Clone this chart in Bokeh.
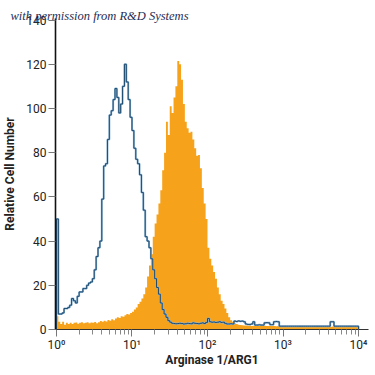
import numpy as np
from bokeh.plotting import figure
from bokeh.models import Range1d, FixedTicker, Title
from bokeh.embed import file_html
from bokeh.resources import INLINE

# ---- data ----
BIN_W = 0.025          # histogram bin width in decades
N_BINS = 160           # 10^0 .. 10^4

isotype = [
    50, 7, 7, 7.5, 9.5, 9.5, 10, 11, 14, 13,
    12, 15, 17, 17, 18.5, 18.5, 20, 21, 21.5, 23,
    27, 33, 37, 40, 59, 74, 75, 86, 97, 99,
    104, 109, 105, 98, 102, 110, 120, 112, 104, 96,
    90, 82, 77, 75, 70, 62, 54, 42, 40, 37,
    32, 27, 23, 19, 16, 12, 9, 7, 5.5, 4,
    3.3, 2.8, 2.7, 2.6, 2.7, 2.8, 2.7, 2.5, 2.6, 2.8,
    2.7, 2.6, 3.0, 2.8, 2.7, 2.6, 2.8, 3.0, 2.7, 3.2,
    5.0, 3.5, 3.3, 3.4, 3.2, 3.3, 3.5, 3.2, 3.3, 2.8,
    2.5, 2.5, 2.6, 2.5, 3.8, 3.6, 3.9, 3.7, 3.8, 3.5,
    2.5, 2.3, 2.3, 2.5, 3.5, 2.0, 2.0, 2.1, 2.0, 2.0,
    3.0, 3.1, 3.0, 2.2, 2.2, 3.5, 3.6, 3.5, 1.5, 1.5,
    1.5, 1.5, 1.5, 1.5, 1.5, 1.5, 1.5, 1.5, 1.5, 1.5,
    1.5, 1.5, 1.5, 1.5, 1.5, 1.5, 1.5, 1.5, 1.5, 1.5,
    1.5, 1.5, 1.5, 1.5, 1.5, 3.5, 3.5, 1.5, 1.5, 1.5,
    1.5, 1.5, 1.5, 1.5, 1.5, 1.5, 1.5, 1.5, 1.5, 1.5,
]

arg1 = [
    6, 3.5, 2.5, 3.5, 2.2, 3, 2.5, 3, 2.5, 3,
    3.2, 2.6, 3, 3.3, 2.8, 3, 3.3, 2.8, 3.2, 3,
    3.4, 2.8, 3.3, 3.8, 3.5, 4, 3.6, 4.3, 4, 4.6,
    4.2, 5, 5.5, 5.2, 6, 5.8, 6.5, 7, 6.8, 7.5,
    8, 9, 10, 11.5, 12.5, 14, 16, 19, 24, 29,
    34, 42, 48, 52, 57, 63, 72, 80, 94, 88,
    101, 98, 105, 110, 121.5, 120, 113, 102, 94, 91,
    89, 89.5, 86, 82, 78.6, 79, 73, 64, 57, 50,
    37, 32, 29, 26, 23, 19, 16, 13, 11.5, 9.5,
    7.5, 5.5, 4.2, 3.5, 2.8, 2.5, 2.2, 2.0, 1.9, 1.8,
    1.8, 1.7, 1.8, 1.6, 1.7, 1.8, 1.7, 1.6, 1.7, 1.6,
    1.7, 1.6, 1.6, 1.7, 1.6, 1.6, 1.5, 1.6, 1.6, 1.5,
    1.6, 1.5, 1.5, 1.6, 1.5, 1.5, 1.5, 1.5, 1.4, 1.5,
    1.5, 1.4, 1.5, 1.4, 1.4, 1.5, 1.4, 1.4, 1.4, 1.4,
    1.4, 1.4, 1.3, 1.4, 1.4, 1.3, 1.4, 1.3, 1.3, 1.4,
    1.3, 1.3, 1.3, 1.3, 1.3, 1.3, 1.2, 1.3, 1.2, 1.2,
]

x_major = [1, 10, 100, 1000, 10000]
x_labels = ["10\u2070", "10\u00b9", "10\u00b2", "10\u00b3", "10\u2074"]
y_major = [0, 20, 40, 60, 80, 100, 120, 140]

x_title = "Arginase 1/ARG1"
y_title = "Relative Cell Number"
note = "with permission from R&D Systems"

# ---- build ----
edges = 10 ** (np.arange(N_BINS + 1) * BIN_W)

FONT = "Roboto"

p = figure(width=375, height=375, output_backend="svg", toolbar_location=None,
           x_axis_type="log",
           x_range=Range1d(10 ** -0.013, 10 ** 4.132),
           y_range=Range1d(0, 140.7),
           min_border_left=55, min_border_right=7, min_border_top=18,
           min_border_bottom=46)
p.outline_line_color = None
p.grid.visible = False
p.background_fill_color = "white"
p.border_fill_color = "white"

# orange filled histogram
p.varea_step(x=list(edges), y1=[0] * (N_BINS + 1), y2=arg1 + [arg1[-1]],
             step_mode="after", fill_color="#F7A21B", fill_alpha=1.0)

# isotype control outline
bx = [edges[0]] + list(edges)
by = [0] + isotype + [0]
p.step(x=bx, y=by, mode="after", line_color="#8db6d6", line_width=2.0)
p.step(x=bx, y=by, mode="after", line_color="#1e4a6e", line_width=1.0)

# x axis
xa = p.xaxis[0]
xa.ticker = FixedTicker(ticks=x_major,
                        minor_ticks=[k * 10 ** d for d in range(4) for k in range(2, 10)])
xa.major_label_overrides = {v: s for v, s in zip(x_major, x_labels)}
xa.axis_line_color = "#333333"
xa.axis_line_width = 1.2
xa.major_tick_line_color = "#777777"
xa.minor_tick_line_color = "#888888"
xa.major_tick_in = 0
xa.major_tick_out = 7
xa.minor_tick_in = 0
xa.minor_tick_out = 5
xa.major_label_standoff = 1
xa.major_label_text_font = FONT
xa.major_label_text_font_size = "12px"
xa.major_label_text_color = "#222222"

# x axis title, as a title below the axis
p.add_layout(Title(text=x_title, align="center", vertical_align="top",
                   standoff=-4, text_font=FONT, text_font_style="bold",
                   text_font_size="12px", text_color="#222222"), "below")

# y axis
ya = p.yaxis[0]
ya.ticker = FixedTicker(ticks=y_major, minor_ticks=[])
ya.axis_line_color = "#111111"
ya.axis_line_width = 1.6
ya.major_tick_line_color = "#777777"
ya.major_tick_in = 0
ya.major_tick_out = 7
ya.minor_tick_out = 0
ya.minor_tick_in = 0
ya.major_label_standoff = 2
ya.major_label_text_font = FONT
ya.major_label_text_font_size = "12px"
ya.major_label_text_color = "#222222"
ya.axis_label = y_title
ya.axis_label_text_font = FONT
ya.axis_label_text_font_style = "bold"
ya.axis_label_text_font_size = "12px"
ya.axis_label_text_color = "#222222"
ya.axis_label_standoff = 6

p.add_layout(Title(text=note, align="left", offset=-45, standoff=-8.5,
                   text_font="Liberation Serif", text_font_style="italic",
                   text_font_size="12.5px", text_color="#1f2d55"), "above")

open("out.html", "w").write(file_html(p, INLINE))
